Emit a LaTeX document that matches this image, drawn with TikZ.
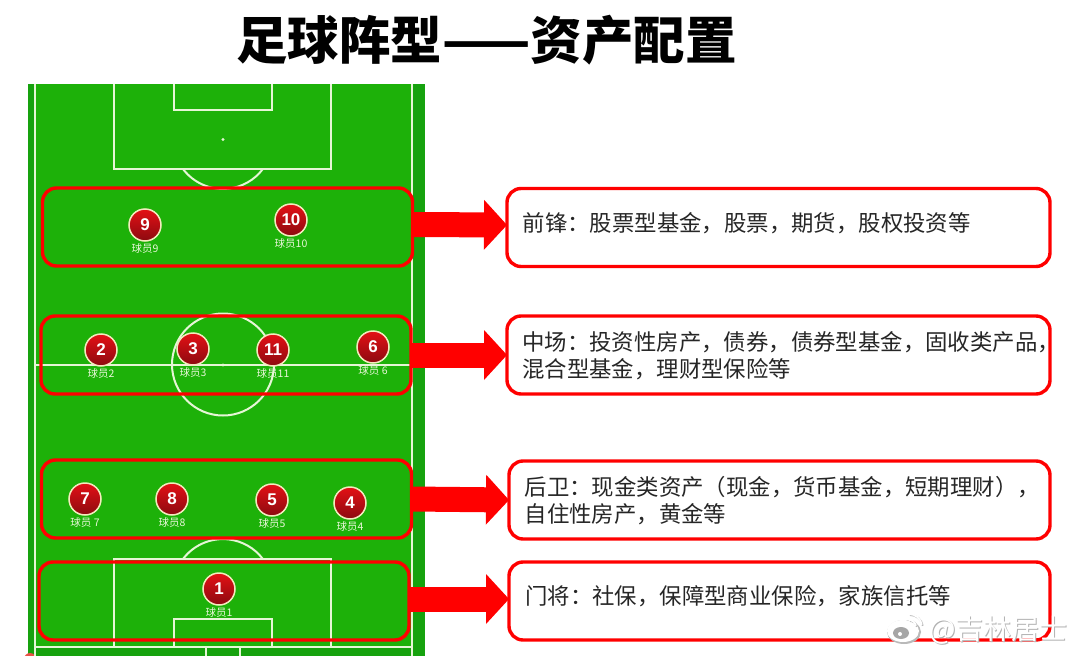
\documentclass[tikz,border=0pt]{standalone}
\usepackage{fontspec}
\usepackage{xcolor}
\setmainfont{Noto Sans CJK SC}
\newfontfamily\numfont{Liberation Sans}
\usetikzlibrary{positioning}
\usetikzlibrary{arrows.meta}
\definecolor{grass}{HTML}{1DB109}
\definecolor{grassdark}{HTML}{16A20E}
\definecolor{chalk}{HTML}{E6F6D6}
\definecolor{ballred}{HTML}{E41015}
\definecolor{balldark}{HTML}{8C0A10}
\definecolor{ballrim}{HTML}{F3EBBE}
\definecolor{infoink}{HTML}{262626}

\begin{document}
\begin{tikzpicture}[x=1pt,y=-1pt,on grid,node distance=24pt,
        chalkline/.style={draw=chalk,line width=2pt},
        ball/.style={circle,draw=ballrim,line width=1.5pt,top color=ballred,bottom color=balldark,minimum size=32pt,inner sep=0pt,text=white,font=\numfont\bfseries\fontsize{17}{17}\selectfont},
        ballname/.style={inner sep=0pt,text=chalk,font=\fontsize{10.5}{11}\selectfont},
        linebox/.style={draw=red,line width=3.4pt,rounded corners=14pt,minimum width=370pt,minimum height=78pt,inner sep=0pt,outer sep=0pt},
        infobox/.style={draw=red,line width=3.4pt,rounded corners=14pt,fill=white,minimum width=543pt,minimum height=78pt,inner sep=0pt,outer sep=0pt},
        infotext/.style={anchor=west,align=left,inner sep=0pt,text=infoink,font=\fontsize{22.4}{27}\selectfont},
        bigarrow/.style={color=red,line width=25pt,-{Triangle[length=23pt,width=50pt,line width=0pt]}}]

        \useasboundingbox (0,0) rectangle (1080,656);

        \node[inner sep=0pt,font=\bfseries\fontsize{51.5}{52}\selectfont]  (title) at (486.5,40) {足球阵型——资产配置};

        \fill[grassdark] (28,84) rectangle (425,656);
        \fill[grass] (35,84) rectangle (412,647);
        \fill[ballred!70!ballrim] (30,659) circle (6);

        \draw[chalkline] (35,84) -- (35,656);
        \draw[chalkline] (412,84) -- (412,656);
        \draw[chalkline] (114,84) -- (114,169) -- (331,169) -- (331,84);
        \draw[chalkline] (174,84) -- (174,110) -- (272,110) -- (272,84);
        \fill[chalk] (223,139.5) circle (1.6);
        \draw[chalkline] (183,169) arc[start angle=143,end angle=37,radius=50];
        \draw[chalkline] (35,365) -- (412,365);
        \draw[chalkline] (223,364.5) circle (51);
        \fill[chalk] (223,365) circle (1.6);
        \draw[chalkline] (183,559) arc[start angle=217,end angle=323,radius=50];
        \draw[chalkline] (114,647) -- (114,559) -- (331,559) -- (331,647);
        \draw[chalkline] (174,647) -- (174,619) -- (272,619) -- (272,647);
        \draw[chalkline] (35,647) -- (412,647);
        \draw[chalkline] (206,656) -- (206,647) -- (240,647) -- (240,656);

        \node[ball]  (p9)   at (145,225)  {9};
        \node[ball]  (p10)  at (291,220)  {10};
        \node[ball]  (p2)   at (101,350)  {2};
        \node[ball]  (p3)   at (193,349)  {3};
        \node[ball]  (p11)  at (273,350)  {11};
        \node[ball]  (p6)   at (373,347)  {6};
        \node[ball]  (p7)   at (85,499)   {7};
        \node[ball]  (p8)   at (172,499)  {8};
        \node[ball]  (p5)   at (272,500)  {5};
        \node[ball]  (p4)   at (350,503)  {4};
        \node[ball]  (p1)   at (219,589)  {1};

        \node[ballname]  (n9)   [below=of p9]  {球员9};
        \node[ballname]  (n10)  [below=of p10] {球员10};
        \node[ballname]  (n2)   [below=of p2]  {球员2};
        \node[ballname]  (n3)   [below=of p3]  {球员3};
        \node[ballname]  (n11)  [below=of p11] {球员11};
        \node[ballname]  (n6)   [below=of p6]  {球员 6};
        \node[ballname]  (n7)   [below=of p7]  {球员 7};
        \node[ballname]  (n8)   [below=of p8]  {球员8};
        \node[ballname]  (n5)   [below=of p5]  {球员5};
        \node[ballname]  (n4)   [below=of p4]  {球员4};
        \node[ballname]  (n1)   [below=of p1]  {球员1};

        \node[linebox]  (fwd)  at (227.5,227) {};
        \node[linebox]  (mid)  at (226,355)   {};
        \node[linebox]  (bck)  at (226.5,499) {};
        \node[linebox]  (gk)   at (224,601)   {};

        \node[infobox]  (fwdinfo)  at (778.5,227.5) {};
        \node[infobox]  (midinfo)  at (778.5,355)   {};
        \node[infobox,minimum width=541pt]  (bckinfo)  at (779.5,500) {};
        \node[infobox,minimum width=541pt]  (gkinfo)   at (779.5,601) {};

        \path
          ([yshift=2.5pt]fwd.east) edge[bigarrow] ([yshift=2.5pt]fwdinfo.west)
          (mid.east) edge[bigarrow] (midinfo.west)
          (bck.east) edge[bigarrow] (bckinfo.west)
          ([yshift=2pt]gk.east) edge[bigarrow] ([yshift=2pt]gkinfo.west);

        \node[infotext]  (fwdtext)  at (522.5,223) {前锋：股票型基金，股票，期货，股权投资等};
        \node[infotext]  (midtext)  at (522,355.5) {中场：投资性房产，债券，债券型基金，固收类产品，\\混合型基金，理财型保险等};
        \node[infotext]  (bcktext)  at (524.5,501) {后卫：现金类资产（现金，货币基金，短期理财），\\自住性房产，黄金等};
        \node[infotext]  (gktext)   at (525,596)   {门将：社保，保障型商业保险，家族信托等};

        \fill[gray!55] (904,632) ellipse (17 and 12);
        \fill[white] (903,631) ellipse (16 and 11);
        \fill[gray!70] (901,633) ellipse (8 and 6);
        \fill[white] (900,634) circle (2);
        \draw[gray!55,line width=1.8pt] (910,615) arc[start angle=-90,end angle=-10,radius=13];
        \draw[gray!55,line width=1.8pt] (910,621) arc[start angle=-90,end angle=-10,radius=7];
        \draw[white,line width=1.8pt] (909,614) arc[start angle=-90,end angle=-10,radius=13];
        \draw[white,line width=1.8pt] (909,620) arc[start angle=-90,end angle=-10,radius=7];

        \node[inner sep=0pt,text=gray!60,font=\fontsize{28}{28}\selectfont]  (markshade)  at (999.5,631) {@吉林居士};
        \node[inner sep=0pt,text=white,font=\fontsize{28}{28}\selectfont]    (mark)  at (998.5,630) {@吉林居士};

      \end{tikzpicture}
\end{document}
